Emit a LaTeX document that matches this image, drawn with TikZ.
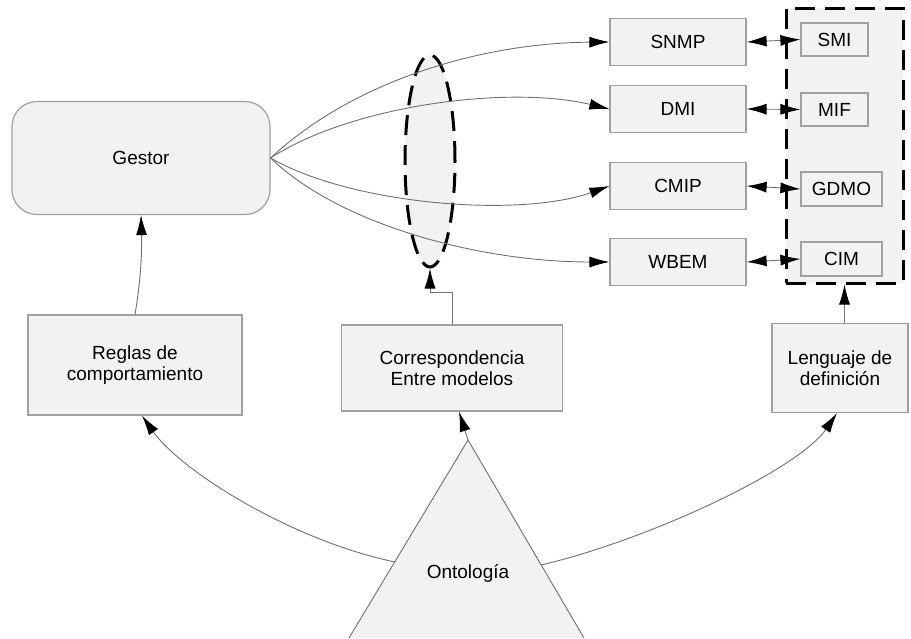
\documentclass[tikz,border=0pt]{standalone}
\usepackage{fontspec}
\setmainfont{Liberation Sans}
\usetikzlibrary{arrows.meta,positioning,shapes.geometric}

\definecolor{boxfill}{HTML}{F2F2F2}
\definecolor{boxline}{HTML}{A0A0A0}
\definecolor{wire}{HTML}{707070}

\tikzset{
	tip/.tip={Latex[length=20pt,width=11pt,black]},
	box/.style={rectangle, draw=boxline, fill=boxfill, line width=1.2pt, inner sep=0pt, align=center, font=\fontsize{19}{21}\selectfont},
	wirearrow/.style={draw=wire, line width=0.9pt, -tip},
	dualarrow/.style={draw=wire, line width=0.9pt, tip-tip},
	dashframe/.style={draw=black, line width=3pt, dash pattern=on 20pt off 10pt, fill=boxfill, inner sep=0pt}
}

\begin{document}
\begin{tikzpicture}[x=1pt,y=-1pt]
	\useasboundingbox (0,0) rectangle (911,638);
	% ontologia
	\coordinate (ontoapex) at (468,440);
	\coordinate (ontoleft) at (395,562);
	\coordinate (ontoright) at (541,565);
	\fill[boxfill] (349,638) -- (ontoapex) -- (584,638) -- cycle;
	\draw[draw=wire, line width=0.9pt] (349,638) -- (ontoapex) -- (584,638);
	\path (468,573) node (onto) [font=\fontsize{19}{21}\selectfont] {Ontología};
	% main boxes
	\path (141,158) node (gestor) [box, rounded corners=25pt, minimum width=258pt, minimum height=113pt] {Gestor}
		  (135,365) node (reglas) [box, minimum width=214pt, minimum height=100pt] {Reglas de\\comportamiento}
		  (452,368) node (corresp) [box, minimum width=221pt, minimum height=86pt] {Correspondencia\\Entre modelos}
		  (840,368) node (lenguaje) [box, minimum width=136pt, minimum height=89pt] {Lenguaje de\\definición};
	% protocols
	\path (678,42) node (snmp) [box, minimum width=136pt, minimum height=47pt] {SNMP}
		  (678,109) node (dmi) [box, minimum width=136pt, minimum height=47pt] {DMI}
		  (678,186) node (cmip) [box, minimum width=136pt, minimum height=47pt] {CMIP}
		  (678,262) node (wbem) [box, minimum width=136pt, minimum height=47pt] {WBEM};
	% information models
	\path (844.5,145.5) node (modelos) [dashframe, minimum width=117pt, minimum height=275pt] {};
	\path (834.5,39.5) node (smi) [box, minimum width=67pt, minimum height=33pt] {SMI}
		  (834.5,109.5) node (mif) [box, minimum width=67pt, minimum height=33pt] {MIF}
		  (841.5,189) node (gdmo) [box, minimum width=81pt, minimum height=34pt] {GDMO}
		  (841.5,259) node (cim) [box, minimum width=81pt, minimum height=34pt] {CIM};
	\path (430,161) node (puente) [ellipse, dashframe, minimum width=50pt, minimum height=212pt] {};
	% connectors
	\draw[wirearrow] (gestor.east) .. controls (352,82) and (479,43) .. (snmp.west);
	\draw[wirearrow] (gestor.east) .. controls (352,105) and (509,85) .. (dmi.west);
	\draw[wirearrow] (gestor.east) .. controls (352,205) and (520,218) .. (cmip.west);
	\draw[wirearrow] (gestor.east) .. controls (340,225) and (480,262) .. (wbem.west);
	\draw[dualarrow] (snmp.east) -- (smi.west);
	\draw[dualarrow] (dmi.east) -- (mif.west);
	\draw[dualarrow] (cmip.east) -- (gdmo.west);
	\draw[dualarrow] (wbem.east) -- (cim.west);
	\draw[wirearrow] (reglas.north) .. controls (141,280) and (142,250) .. (gestor.south);
	\draw[wirearrow] (corresp.north) -- ++(0,-32) -| (puente.south);
	\draw[wirearrow] (lenguaje.north -| modelos.south) -- (modelos.south);
	\draw[wirearrow] (ontoleft) .. controls (290,540) and (180,470) .. ([xshift=7pt]reglas.south);
	\draw[wirearrow] (ontoright) .. controls (648,540) and (798,470) .. ([xshift=-3pt]lenguaje.south);
	\draw[wirearrow] (ontoapex) -- ([xshift=7pt]corresp.south);
\end{tikzpicture}
\end{document}
